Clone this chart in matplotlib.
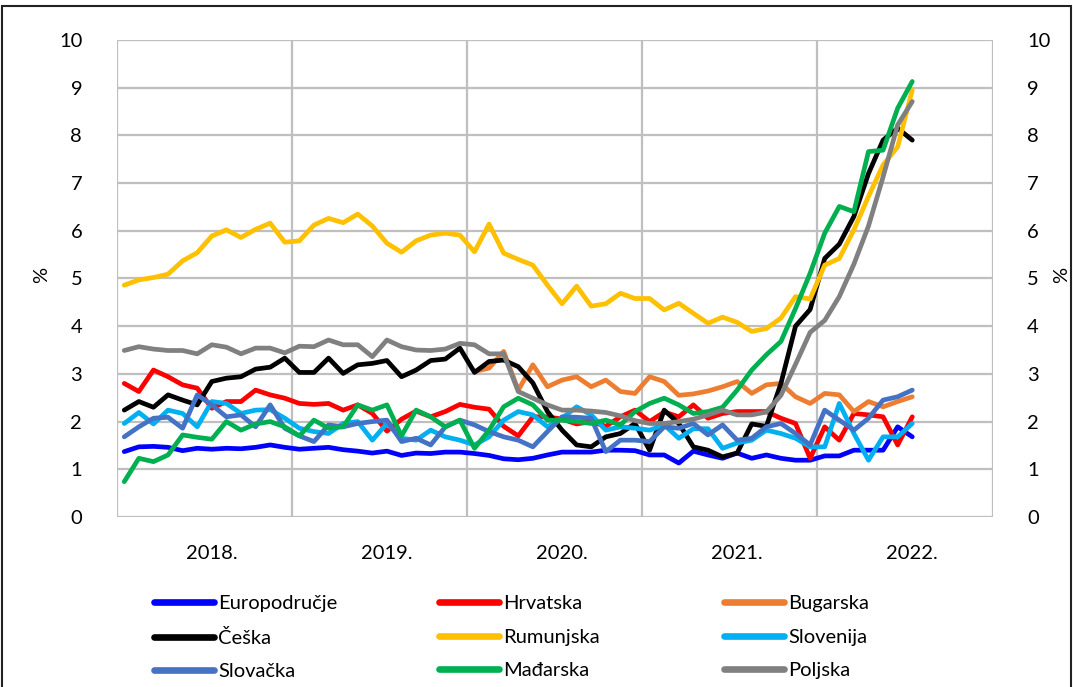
import matplotlib
matplotlib.use('Agg')
import matplotlib.pyplot as plt
import numpy as np
from matplotlib.patches import Rectangle
from matplotlib.lines import Line2D

plt.rcParams['font.family'] = ['Lato', 'DejaVu Sans']

# monthly data, Jan 2018 - Jul 2022 (%)
euro = [1.37, 1.47, 1.48, 1.46, 1.39, 1.44, 1.42, 1.44, 1.43, 1.46, 1.51, 1.46,
        1.42, 1.44, 1.46, 1.41, 1.38, 1.34, 1.38, 1.29, 1.34, 1.33, 1.36, 1.36,
        1.33, 1.29, 1.22, 1.20, 1.23, 1.30, 1.36, 1.36, 1.36, 1.40, 1.40, 1.39,
        1.30, 1.30, 1.13, 1.38, 1.30, 1.23, 1.34, 1.23, 1.30, 1.23, 1.19, 1.19,
        1.28, 1.28, 1.40, 1.40, 1.40, 1.89, 1.68]
hrv = [2.80, 2.63, 3.08, 2.94, 2.77, 2.70, 2.28, 2.42, 2.42, 2.66, 2.56, 2.49,
       2.38, 2.36, 2.38, 2.24, 2.35, 2.17, 1.80, 2.05, 2.22, 2.10, 2.21, 2.36,
       2.30, 2.26, 1.90, 1.70, 2.10, 2.10, 2.05, 1.95, 2.00, 1.90, 2.10, 2.24,
       2.00, 2.20, 2.10, 2.35, 2.07, 2.17, 2.21, 2.21, 2.21, 2.07, 1.96, 1.23,
       1.89, 1.61, 2.17, 2.14, 2.10, 1.51, 2.10]
bgr = [None] * 24 + [3.05, 3.12, 3.47, 2.66, 3.19, 2.73, 2.87, 2.94, 2.73, 2.87,
                     2.63, 2.59, 2.94, 2.84, 2.55, 2.58, 2.64, 2.73, 2.84, 2.59,
                     2.77, 2.80, 2.52, 2.38, 2.59, 2.56, 2.21, 2.42, 2.31, 2.42,
                     2.52]
cze = [2.24, 2.42, 2.30, 2.56, 2.45, 2.35, 2.84, 2.91, 2.94, 3.10, 3.14, 3.33,
       3.03, 3.03, 3.33, 3.01, 3.19, 3.22, 3.28, 2.94, 3.08, 3.28, 3.31, 3.54,
       3.03, 3.26, 3.29, 3.15, 2.81, 2.21, 1.82, 1.51, 1.47, 1.68, 1.75, 1.96,
       1.40, 2.24, 1.96, 1.47, 1.40, 1.26, 1.34, 1.95, 1.90, 2.80, 4.00, 4.35,
       5.42, 5.72, 6.30, 7.20, 7.90, 8.15, 7.90]
rou = [4.86, 4.97, 5.02, 5.09, 5.37, 5.54, 5.89, 6.02, 5.86, 6.03, 6.16, 5.76,
       5.79, 6.12, 6.26, 6.17, 6.35, 6.10, 5.74, 5.55, 5.79, 5.91, 5.95, 5.91,
       5.56, 6.14, 5.53, 5.40, 5.28, 4.86, 4.47, 4.84, 4.42, 4.47, 4.69, 4.58,
       4.58, 4.34, 4.48, 4.27, 4.06, 4.19, 4.08, 3.89, 3.95, 4.17, 4.62, 4.57,
       5.28, 5.42, 6.02, 6.72, 7.38, 7.76, 8.95]
svn = [1.96, 2.19, 1.95, 2.24, 2.17, 1.89, 2.42, 2.38, 2.17, 2.24, 2.25, 2.07,
       1.86, 1.79, 1.75, 1.96, 2.00, 1.61, 1.96, 1.65, 1.61, 1.82, 1.68, 1.61,
       1.51, 1.68, 2.03, 2.21, 2.14, 1.89, 2.07, 2.31, 2.14, 1.82, 1.89, 1.86,
       1.82, 1.93, 1.65, 1.85, 1.85, 1.44, 1.55, 1.61, 1.82, 1.75, 1.65, 1.47,
       1.47, 2.38, 1.75, 1.19, 1.68, 1.68, 1.96]
svk = [1.68, 1.89, 2.07, 2.09, 1.86, 2.56, 2.35, 2.10, 2.14, 1.89, 2.35, 1.86,
       1.70, 1.58, 1.93, 1.89, 1.96, 2.00, 2.03, 1.58, 1.65, 1.51, 1.89, 2.03,
       1.93, 1.79, 1.68, 1.61, 1.47, 1.79, 2.10, 2.09, 2.07, 1.37, 1.61, 1.61,
       1.58, 1.89, 1.86, 1.96, 1.72, 1.93, 1.61, 1.65, 1.89, 1.96, 1.75, 1.51,
       2.24, 2.03, 1.82, 2.07, 2.45, 2.52, 2.66]
hun = [0.74, 1.23, 1.16, 1.30, 1.72, 1.67, 1.63, 2.00, 1.82, 1.95, 2.00, 1.89,
       1.70, 2.03, 1.86, 1.89, 2.35, 2.24, 2.35, 1.70, 2.24, 2.10, 1.89, 2.03,
       1.44, 1.82, 2.31, 2.49, 2.35, 2.03, 2.03, 2.00, 1.96, 2.03, 1.93, 2.21,
       2.38, 2.49, 2.35, 2.17, 2.21, 2.30, 2.66, 3.08, 3.40, 3.68, 4.37, 5.11,
       5.95, 6.51, 6.40, 7.66, 7.69, 8.57, 9.13]
pol = [3.49, 3.57, 3.52, 3.49, 3.49, 3.42, 3.61, 3.56, 3.42, 3.54, 3.54, 3.44,
       3.58, 3.57, 3.71, 3.61, 3.61, 3.36, 3.71, 3.57, 3.50, 3.49, 3.52, 3.64,
       3.61, 3.42, 3.42, 2.63, 2.49, 2.35, 2.24, 2.24, 2.22, 2.19, 2.12, 2.02,
       1.96, 1.96, 2.00, 2.05, 2.14, 2.24, 2.14, 2.14, 2.20, 2.55, 3.20, 3.87,
       4.12, 4.62, 5.30, 6.10, 7.13, 8.22, 8.71]

years = ['2018.', '2019.', '2020.', '2021.', '2022.']

series = [('Europodručje', euro, '#0000FF'),
          ('Hrvatska', hrv, '#FF0000'),
          ('Bugarska', bgr, '#ED7D31'),
          ('Češka', cze, '#000000'),
          ('Rumunjska', rou, '#FFC000'),
          ('Slovenija', svn, '#00B0F0'),
          ('Slovačka', svk, '#4472C4'),
          ('Mađarska', hun, '#00B050'),
          ('Poljska', pol, '#808080')]

fs = 14.5
fig = plt.figure(figsize=(10.73, 6.87), dpi=100)
ax = fig.add_axes([0.109, 0.2475, 0.816, 0.6943])

x = np.arange(len(euro)) + 0.5   # month centres
handles = []
for name, vals, col in series:
    y = np.array(vals, dtype=float)
    ax.plot(x, y, color=col, lw=3.4, solid_joinstyle='round',
            solid_capstyle='round', zorder=3)
    handles.append(Line2D([], [], color=col, lw=4.8, solid_capstyle='round',
                          label=name))

n_months = len(years) * 12
ax.set_xlim(0, n_months)
ax.set_ylim(0, 10)
ax.set_xticks(np.arange(0, n_months + 1, 12))
ax.set_xticklabels([])
ax.set_xticks(np.arange(len(years)) * 12 + 6.5, minor=True)
ax.set_xticklabels(years, minor=True, fontsize=fs)
ax.set_yticks(np.arange(0, 11, 1))
ax.grid(True, which='major', color='#BFBFBF', lw=1.6, zorder=0)
ax.tick_params(axis='x', which='both', length=0, pad=20)
ax.tick_params(axis='y', length=0, pad=25, labelsize=fs, labelright=True)
for s in ax.spines.values():
    s.set_visible(False)
fig.text(42 / 1073, 1 - 275 / 687, '%', fontsize=fs, rotation=90,
         ha='center', va='center')
fig.text(1062 / 1073, 1 - 275 / 687, '%', fontsize=fs, rotation=90,
         ha='center', va='center')

# legend, 3 columns of 3 (Excel reads row by row)
col_x = [154, 439, 724]
for c in range(3):
    hs = handles[c::3]
    fig.legend(hs, [h.get_label() for h in hs], loc='upper left',
               bbox_to_anchor=(col_x[c] / 1073, 1 - 595 / 687),
               frameon=False, fontsize=fs, handlelength=3.0, handletextpad=0.2,
               labelspacing=0.82, borderpad=0, borderaxespad=0)

fig.patches.append(Rectangle((2 / 1073, -0.01), 1069 / 1073, 1 - 6 / 687 + 0.01,
                             transform=fig.transFigure, fill=False,
                             edgecolor='#222222', lw=1.5))

plt.savefig('out.png', dpi=100)
